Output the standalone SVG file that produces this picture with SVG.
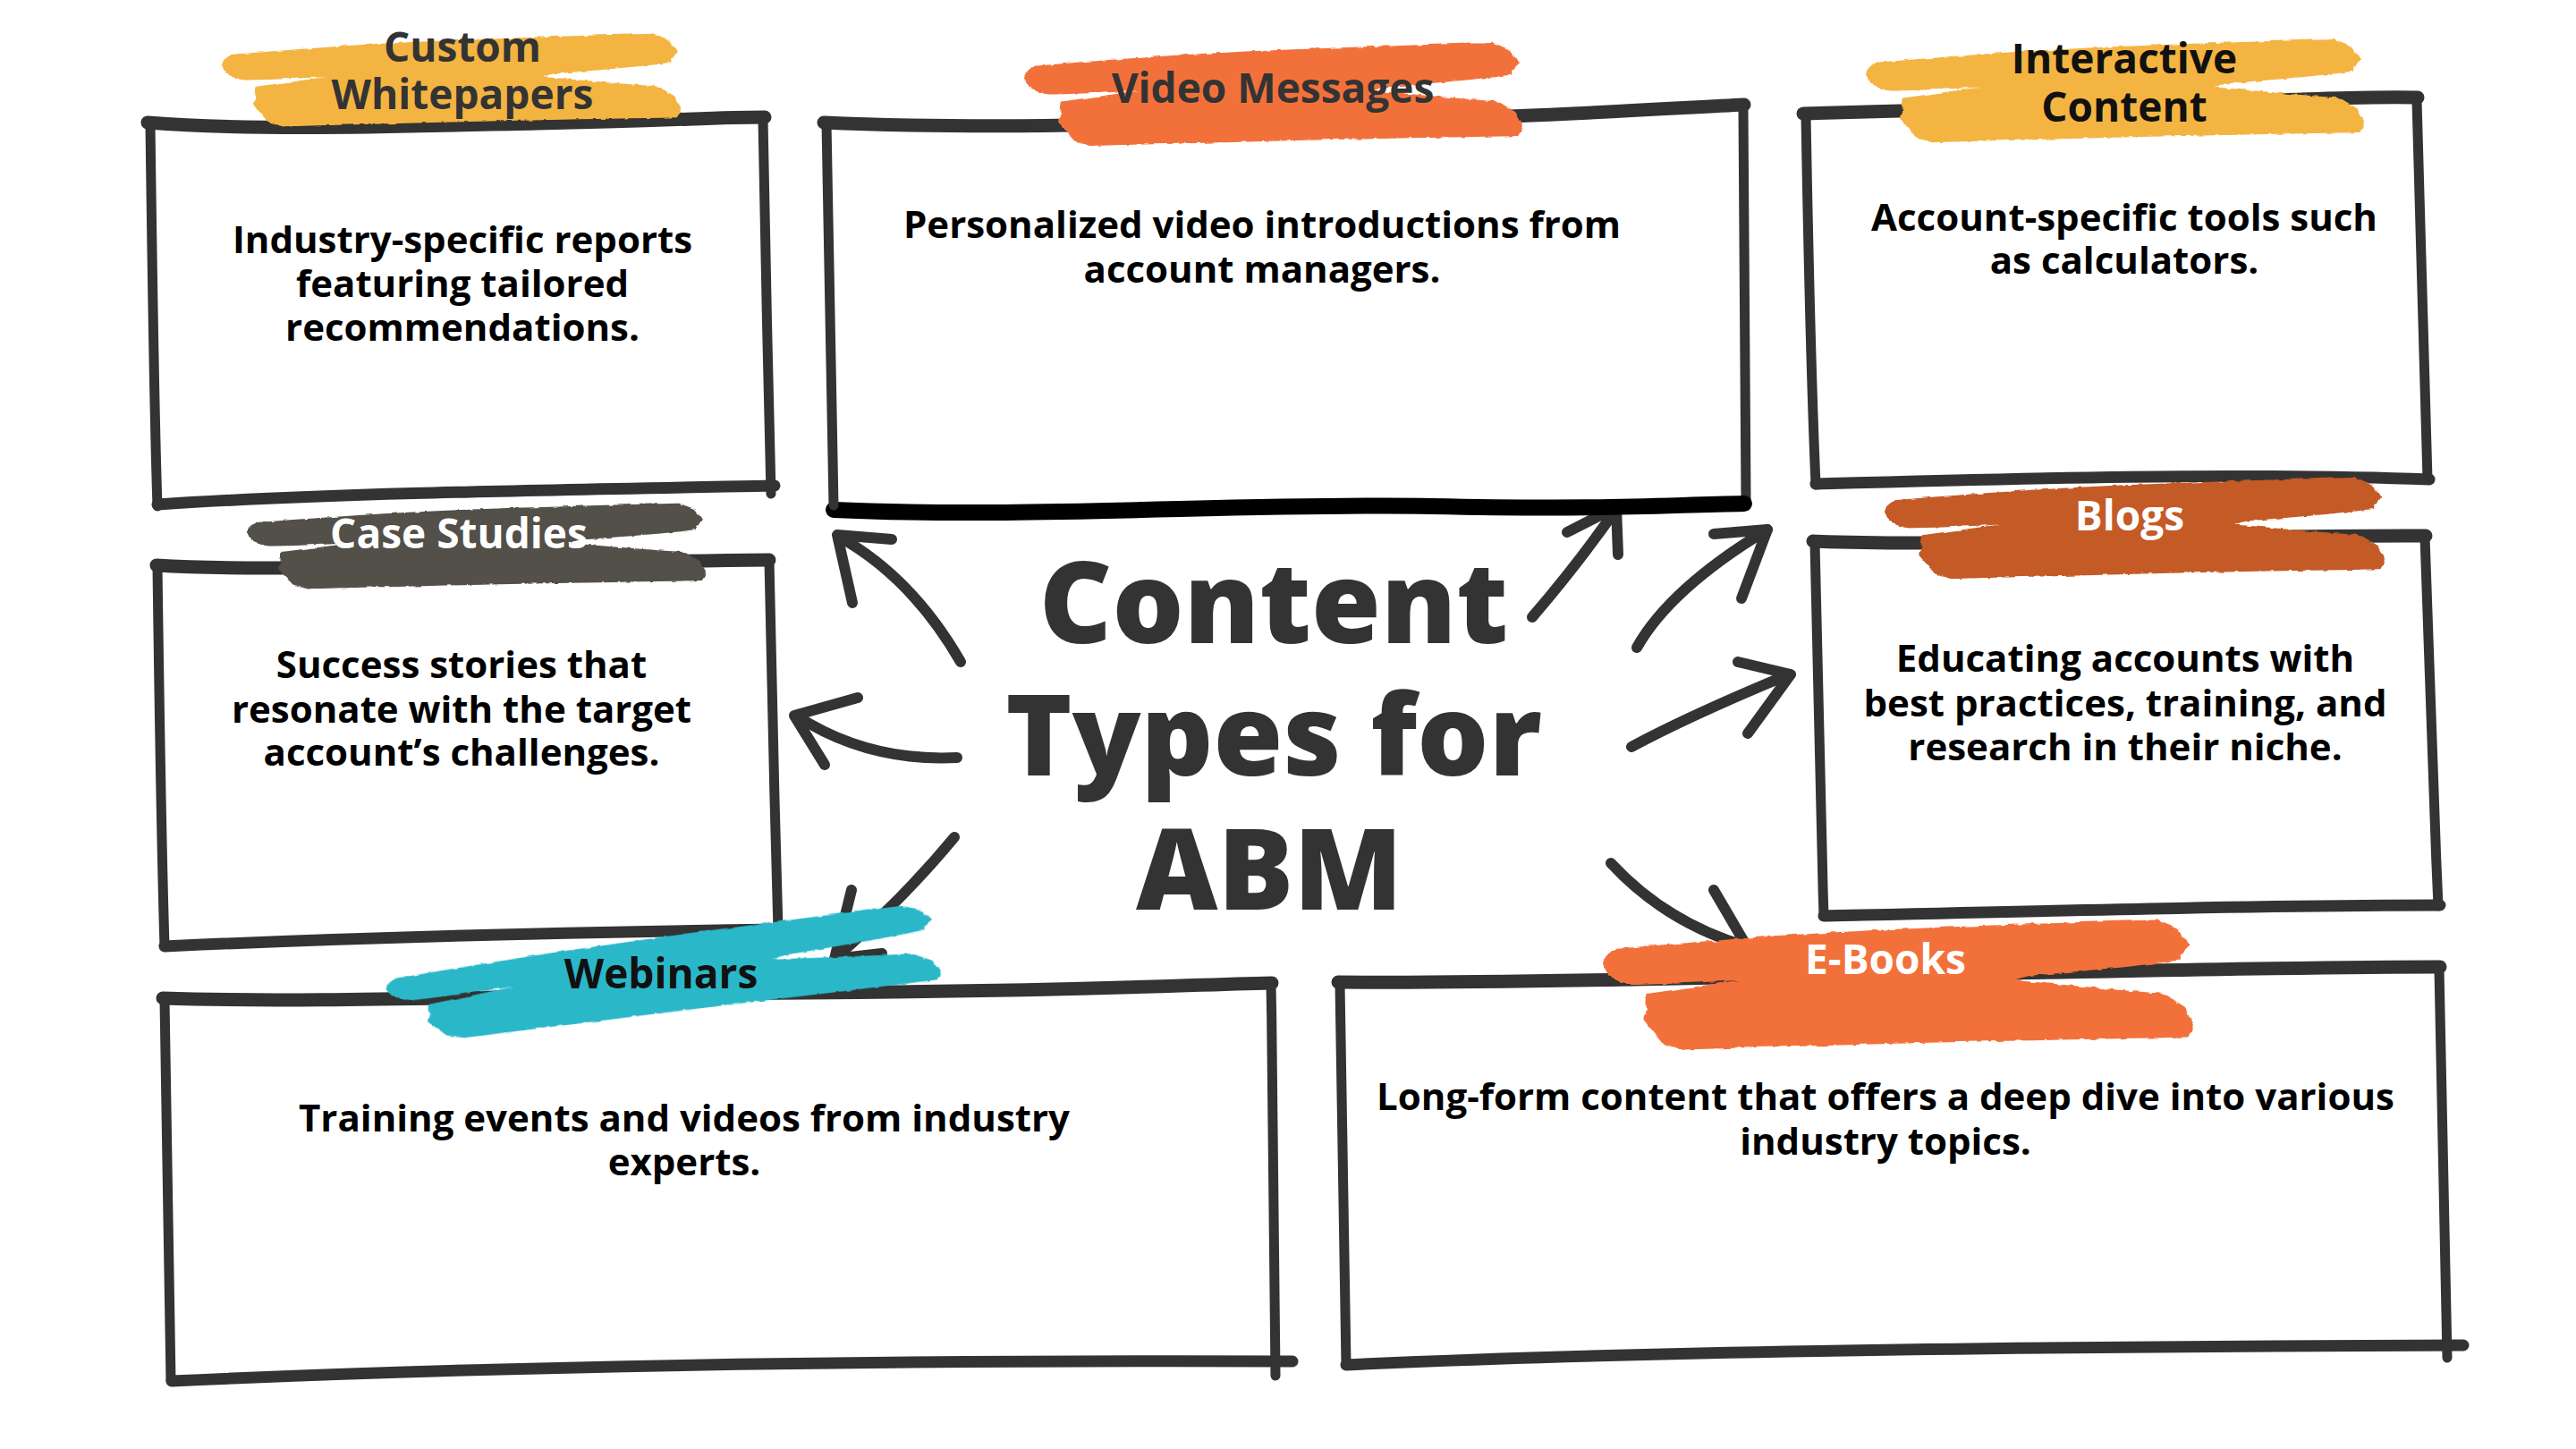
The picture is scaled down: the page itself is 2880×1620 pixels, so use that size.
<svg xmlns="http://www.w3.org/2000/svg" width="2880" height="1620" viewBox="0 0 2880 1620">
<style>
.bx{fill:none;stroke:#333;stroke-linecap:round;stroke-linejoin:round}
.t{stroke-width:15}.s{stroke-width:11}.b{stroke-width:13}
.body{font-family:"Open Sans","Noto Sans",sans-serif;font-weight:700;font-size:42px;fill:#000;text-anchor:middle}
.lbl{font-family:"Open Sans","Noto Sans",sans-serif;font-weight:700;font-size:46px;fill:#333;text-anchor:middle}
.lw{fill:#fff}.lk{fill:#111}
.title{font-family:"Open Sans","Noto Sans",sans-serif;font-weight:800;font-size:126px;fill:#333;text-anchor:middle}
.arrow{fill:none;stroke:#333;stroke-width:12;stroke-linecap:round;stroke-linejoin:round}
</style>
<defs>
<filter id="rough" x="-5%" y="-10%" width="110%" height="120%">
<feTurbulence type="fractalNoise" baseFrequency="0.06" numOctaves="2" seed="3" result="n"/>
<feDisplacementMap in="SourceGraphic" in2="n" scale="9" xChannelSelector="R" yChannelSelector="G"/>
</filter>
<path id="brush" d="M20,70 C120,58 220,48 300,40 C420,30 520,24 600,20 C720,14 840,8 940,5 L975,25 L990,60 L975,95 C900,110 800,120 720,130 L700,140 C780,150 860,160 950,170 L985,200 L1000,240 L990,267 C900,270 800,272 700,275 C600,278 500,281 400,285 C300,289 200,292 140,295 L100,280 L70,230 L75,170 L230,140 C160,145 90,150 40,150 L10,130 L0,95 Z"/>
</defs>
<rect width="2880" height="1620" fill="#fff"/>

<g id="connectors">
<path class="arrow" d="M1074,740 Q1020,646 938,600"/><path class="arrow" d="M997,603 L936,598 L953,674"/>
<path class="arrow" d="M1070,847 Q970,852 890,800"/><path class="arrow" d="M959,780 L888,800 L922,855"/>
<path class="arrow" d="M1067,936 Q1010,1005 935,1070"/><path class="arrow" d="M952,995 L933,1072 L986,1066"/>
<path class="arrow" d="M1713,690 Q1766,628 1807,569"/><path class="arrow" d="M1752,595 L1807,567 L1809,620"/>
<path class="arrow" d="M1830,724 Q1867,658 1976,592"/><path class="arrow" d="M1916,597 L1976,592 L1947,669"/>
<path class="arrow" d="M1824,835 Q1889,800 2000,754"/><path class="arrow" d="M1943,740 L2002,754 L1954,820"/>
<path class="arrow" d="M1801,965 Q1862,1031 1952,1058"/><path class="arrow" d="M1916,995 L1954,1060 L1901,1067"/>
</g>

<g id="title">
<text class="title"><tspan x="1424" y="719">Content</tspan><tspan x="1424" y="867">Types for</tspan><tspan x="1419" y="1017">ABM</tspan></text>
</g>

<g id="custom-whitepapers">
<path class="bx t" d="M165,137 C300,147 450,141 600,138 S800,131 855,131"/>
<path class="bx s" d="M853,133 C856,260 858,420 862,552"/>
<path class="bx b" d="M176,564 C350,552 600,548 866,543"/>
<path class="bx s" d="M168,140 C170,280 172,450 176,566"/>
<use href="#brush" fill="#F4B443" filter="url(#rough)" transform="translate(248,36) scale(0.514,0.357)"/>
<text class="lbl"><tspan x="517" y="69">Custom</tspan><tspan x="517" y="122">Whitepapers</tspan></text>
<text class="body"><tspan x="517" y="283">Industry-specific reports</tspan><tspan x="517" y="332">featuring tailored</tspan><tspan x="517" y="381">recommendations.</tspan></text>
</g>

<g id="video-messages">
<path class="bx t" d="M921,137 C1100,145 1300,138 1500,135 S1850,122 1950,117"/>
<path class="bx s" d="M1949,120 C1951,280 1951,420 1952,558"/>
<path class="bx" style="stroke:#000;stroke-width:18" d="M932,570 C1150,580 1400,562 1600,566 S1850,565 1950,563"/>
<path class="bx s" d="M924,138 C927,300 930,450 932,565"/>
<use href="#brush" fill="#F2713A" filter="url(#rough)" transform="translate(1145,46) scale(0.558,0.397)"/>
<text class="lbl" x="1423" y="115">Video Messages</text>
<text class="body"><tspan x="1411" y="266">Personalized video introductions from</tspan><tspan x="1411" y="316">account managers.</tspan></text>
</g>

<g id="interactive-content">
<path class="bx t" d="M2016,127 C2150,122 2300,120 2450,115 S2650,108 2703,109"/>
<path class="bx s" d="M2702,112 C2706,250 2710,400 2714,536"/>
<path class="bx b" d="M2030,541 C2250,535 2500,528 2716,536"/>
<path class="bx s" d="M2019,130 C2022,300 2026,450 2030,542"/>
<use href="#brush" fill="#F4B443" filter="url(#rough)" transform="translate(2086,42) scale(0.558,0.397)"/>
<text class="lbl lk"><tspan x="2375" y="82">Interactive</tspan><tspan x="2375" y="136">Content</tspan></text>
<text class="body"><tspan x="2375" y="258">Account-specific tools such</tspan><tspan x="2375" y="306">as calculators.</tspan></text>
</g>

<g id="case-studies">
<path class="bx t" d="M175,632 C300,640 500,630 860,626"/>
<path class="bx s" d="M860,627 C863,780 866,900 870,1040"/>
<path class="bx b" d="M184,1058 C400,1048 650,1042 872,1039"/>
<path class="bx s" d="M176,633 C178,780 180,930 184,1058"/>
<use href="#brush" fill="#524F4A" filter="url(#rough)" transform="translate(276,561) scale(0.514,0.33)"/>
<text class="lbl lw" x="513" y="613">Case Studies</text>
<text class="body"><tspan x="516" y="758">Success stories that</tspan><tspan x="516" y="808">resonate with the target</tspan><tspan x="516" y="856">account’s challenges.</tspan></text>
</g>

<g id="blogs">
<path class="bx t" d="M2027,605 C2200,612 2450,598 2712,599"/>
<path class="bx s" d="M2711,600 C2716,750 2720,880 2726,1013"/>
<path class="bx b" d="M2039,1024 C2300,1018 2550,1012 2728,1012"/>
<path class="bx s" d="M2029,607 C2032,780 2035,900 2039,1024"/>
<use href="#brush" fill="#C45A27" filter="url(#rough)" transform="translate(2107,532) scale(0.56,0.39)"/>
<text class="lbl lw" x="2381" y="593">Blogs</text>
<text class="body"><tspan x="2376" y="751">Educating accounts with</tspan><tspan x="2376" y="801">best practices, training, and</tspan><tspan x="2376" y="850">research in their niche.</tspan></text>
</g>

<g id="webinars">
<path class="bx t" d="M182,1116 C350,1122 600,1112 900,1110 S1300,1102 1422,1099"/>
<path class="bx s" d="M1421,1101 C1424,1250 1425,1400 1426,1538"/>
<path class="bx b" d="M192,1544 C500,1530 900,1520 1445,1522"/>
<path class="bx s" d="M184,1118 C186,1300 189,1420 191,1544"/>
<use href="#brush" fill="#29B8C9" filter="url(#rough)" transform="translate(428,1072) rotate(-6) scale(0.62,0.33)"/>
<text class="lbl lk" x="739" y="1105">Webinars</text>
<text class="body"><tspan x="765" y="1265">Training events and videos from industry</tspan><tspan x="765" y="1314">experts.</tspan></text>
</g>

<g id="e-books">
<path class="bx t" d="M1496,1098 C1700,1100 1900,1092 2100,1090 S2550,1081 2728,1081"/>
<path class="bx s" d="M2727,1083 C2731,1250 2734,1400 2736,1518"/>
<path class="bx b" d="M1505,1526 C1800,1512 2200,1506 2754,1504"/>
<path class="bx s" d="M1498,1100 C1500,1300 1503,1420 1505,1526"/>
<use href="#brush" fill="#F2713A" filter="url(#rough)" transform="translate(1792,1026) scale(0.661,0.5)"/>
<text class="lbl lw" x="2108" y="1089">E-Books</text>
<text class="body"><tspan x="2108" y="1241">Long-form content that offers a deep dive into various</tspan><tspan x="2108" y="1291">industry topics.</tspan></text>
</g>
</svg>
